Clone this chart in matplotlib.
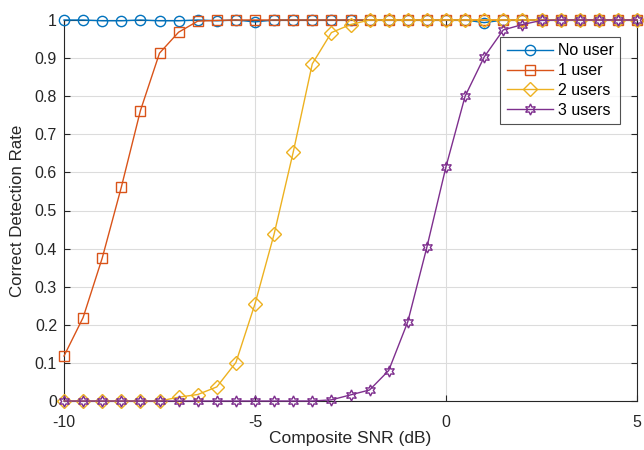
import numpy as np
import matplotlib
matplotlib.use("Agg")
import matplotlib.pyplot as plt

plt.rcParams['font.family'] = ['Liberation Sans', 'DejaVu Sans']

snr = [-10, -9.5, -9, -8.5, -8, -7.5, -7, -6.5, -6, -5.5, -5, -4.5, -4, -3.5, -3,
       -2.5, -2, -1.5, -1, -0.5, 0, 0.5, 1, 1.5, 2, 2.5, 3, 3.5, 4, 4.5, 5]

no_user = [1.0, 1.0, 0.998, 0.998, 1.0, 0.998, 0.998, 1.0, 0.998, 1.0, 0.995, 1.0, 1.0, 1.0, 1.0,
           1.0, 1.0, 1.0, 1.0, 1.0, 1.0, 1.0, 0.993, 1.0, 1.0, 1.0, 1.0, 1.0, 1.0, 1.0, 1.0]
one_user = [0.118, 0.219, 0.375, 0.561, 0.762, 0.913, 0.968, 0.997, 0.999, 1.0, 1.0, 1.0, 1.0, 1.0, 1.0,
            1.0, 1.0, 1.0, 1.0, 1.0, 1.0, 1.0, 1.0, 1.0, 1.0, 1.0, 1.0, 1.0, 1.0, 1.0, 1.0]
two_users = [0.0, 0.0, 0.0, 0.0, 0.0, 0.0, 0.01, 0.017, 0.037, 0.101, 0.255, 0.438, 0.653, 0.885, 0.967,
             0.988, 1.0, 1.0, 1.0, 1.0, 1.0, 1.0, 1.0, 1.0, 1.0, 1.0, 1.0, 1.0, 1.0, 1.0, 1.0]
three_users = [0.0, 0.0, 0.0, 0.0, 0.0, 0.0, 0.0, 0.0, 0.0, 0.0, 0.0, 0.0, 0.0, 0.0, 0.003,
               0.016, 0.029, 0.08, 0.208, 0.404, 0.615, 0.8, 0.903, 0.974, 0.988, 0.999, 1.0, 1.0, 1.0, 1.0, 1.0]

labels = ['No user', '1 user', '2 users', '3 users']
xticks = [-10, -5, 0, 5]
yticks = [0, 0.1, 0.2, 0.3, 0.4, 0.5, 0.6, 0.7, 0.8, 0.9, 1]
ytick_labels = ['0', '0.1', '0.2', '0.3', '0.4', '0.5', '0.6', '0.7', '0.8', '0.9', '1']

fig = plt.figure(figsize=(6.44, 4.5), dpi=100)
ax = fig.add_axes([64/644, 1-401/450, (637-64)/644, (401-20)/450])

colors = ['#0072BD', '#D95319', '#EDB120', '#7E2F8E']
markers = ['o', 's', 'D', (6, 1, 0)]
msizes = [7.4, 6.5, 7.0, 8.0]
series = [no_user, one_user, two_users, three_users]
for y, c, m, ms, lab in zip(series, colors, markers, msizes, labels):
    ax.plot(snr, y, color=c, marker=m, markersize=ms, markerfacecolor='none',
            markeredgecolor=c, linewidth=1.0, markeredgewidth=1.0, label=lab,
            clip_on=False, zorder=3)

ax.set_xlim(-10, 5)
ax.set_ylim(0, 1)
ax.set_xticks(xticks)
ax.set_xticklabels([str(v) for v in xticks])
ax.set_yticks(yticks)
ax.set_yticklabels(ytick_labels)
ax.grid(True, color='#dcdcdc', linewidth=0.8)
ax.set_axisbelow(True)
for sp in ax.spines.values():
    sp.set_color('#262626')
    sp.set_linewidth(0.8)
ax.tick_params(direction='in', length=4, width=0.8, colors='#262626', labelsize=11.5,
               top=True, right=True)
ax.tick_params(axis='x', pad=10)
ax.tick_params(axis='y', pad=5)
ax.set_xlabel('Composite SNR (dB)', fontsize=12.5, color='#262626', labelpad=1)
ax.set_ylabel('Correct Detection Rate', fontsize=12.2, color='#262626', labelpad=7)

leg = ax.legend(loc='upper right', bbox_to_anchor=(620/644, 1-37/450), bbox_transform=fig.transFigure,
                borderaxespad=0.0,
                fontsize=11.5, frameon=True, fancybox=False, edgecolor='#262626',
                handlelength=2.9, borderpad=0.4, labelspacing=0.3, handletextpad=0.3)
leg.get_frame().set_linewidth(0.8)

fig.savefig('out.png', dpi=100)
